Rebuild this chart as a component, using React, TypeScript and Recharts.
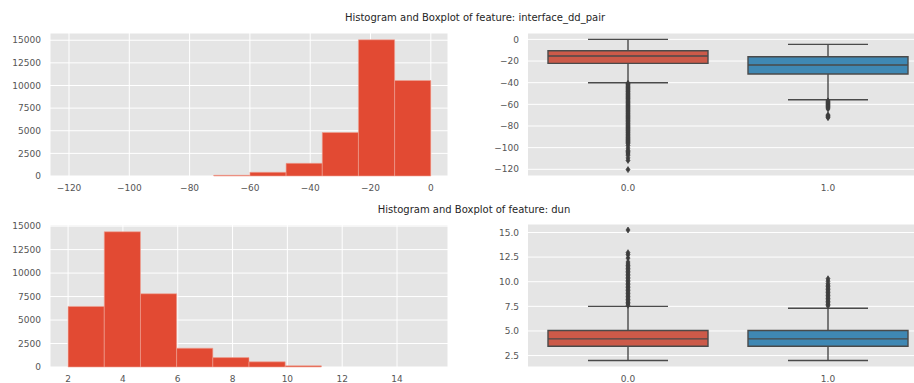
import React from 'react';
import {
  ComposedChart,
  XAxis,
  YAxis,
  CartesianGrid,
  ReferenceArea,
  ReferenceLine,
  Scatter,
} from 'recharts';

const FONT = '"DejaVu Sans", "Liberation Sans", sans-serif';

// ---------- Histogram data ----------
const ddBinEdges = [-120, -108, -96, -84, -72, -60, -48, -36, -24, -12, 0];
const ddCounts = [2, 3, 4, 6, 80, 410, 1400, 4800, 15050, 10550];
const dunBinEdges = [2, 3.32, 4.64, 5.96, 7.28, 8.6, 9.92, 11.24, 12.56, 13.88, 15.2];
const dunCounts = [6450, 14400, 7800, 2000, 1000, 550, 120, 6, 2, 1];

const ddHistTicks = [-120, -100, -80, -60, -40, -20, 0];
const dunHistTicks = [2, 4, 6, 8, 10, 12, 14];
const countTicks = [0, 2500, 5000, 7500, 10000, 12500, 15000];

// ---------- Boxplot data ----------
const categories = [0, 1];
const categoryLabels = ['0.0', '1.0'];
const boxColors = ['#CC5A49', '#3f88b4'];

const ddBoxTicks = [0, -20, -40, -60, -80, -100, -120];
const dunBoxTicks = [2.5, 5, 7.5, 10, 12.5, 15];

const ddBoxStats = [
  { low: -40, q1: -22.2, median: -15.4, q3: -10.5, high: 0 },
  { low: -55.7, q1: -32, median: -23.7, q3: -16, high: -4.6 },
];
const dunBoxStats = [
  { low: 2.0, q1: 3.45, median: 4.2, q3: 5.05, high: 7.5 },
  { low: 2.0, q1: 3.45, median: 4.2, q3: 5.05, high: 7.3 },
];

const ddOutliers0 = [
  -40.6, -41.3, -42.1, -43.0, -43.8, -44.5, -45.4, -46.2, -47.0, -47.9, -48.6, -49.5,
  -50.3, -51.1, -52.0, -52.8, -53.6, -54.5, -55.2, -56.1, -57.0, -57.8, -58.6, -59.5,
  -60.3, -61.2, -62.0, -62.8, -63.7, -64.5, -65.4, -66.2, -67.0, -67.9, -68.7, -69.6,
  -70.4, -71.2, -72.1, -73.0, -73.8, -74.7, -75.5, -76.3, -77.2, -78.0, -78.9, -79.7,
  -80.6, -81.4, -82.3, -83.1, -84.0, -84.8, -85.7, -86.5, -87.4, -88.2, -89.1, -90.0,
  -90.8, -91.7, -92.5, -93.4, -94.3, -95.2, -96.3, -98.0, -100.4, -102.5, -103.6,
  -104.8, -105.9, -107.0, -109.5, -111.8, -120.3,
];
const ddOutliers1 = [-56.8, -57.6, -58.4, -59.2, -60.1, -61.0, -62.0, -63.1, -64.2, -69.8, -70.6, -71.5, -72.3];

const dunOutliers0 = [
  7.6, 7.75, 7.9, 8.05, 8.2, 8.35, 8.5, 8.65, 8.8, 8.95, 9.1, 9.25, 9.4, 9.55, 9.7,
  9.85, 10.0, 10.15, 10.3, 10.45, 10.6, 10.75, 10.9, 11.05, 11.2, 11.35, 11.5, 11.65,
  11.8, 12.0, 12.4, 12.75, 12.95, 15.25,
];
const dunOutliers1 = [
  7.55, 7.7, 7.85, 8.0, 8.15, 8.3, 8.45, 8.6, 8.75, 8.9, 9.05, 9.2, 9.35, 9.5, 9.65, 9.8,
  10.05, 10.3,
];

const minusFmt = (v: number) => String(v).replace('-', '\u2212');
const oneDec = (v: number) => v.toFixed(1).replace('-', '\u2212');

const tickStyle = { fill: '#555555', fontSize: 9, fontFamily: FONT };

type HistProps = {
  edges: number[];
  counts: number[];
  xDomain: [number, number];
  yDomain: [number, number];
  xTicks: number[];
  width: number;
  height: number;
  top: number;
  xAxisHeight: number;
};

function Histogram({ edges, counts, xDomain, yDomain, xTicks, width, height, top, xAxisHeight }: HistProps) {
  const data = counts.map((c, i) => ({ x: (edges[i] + edges[i + 1]) / 2, y: c }));
  const visibleMin = (yDomain[1] - yDomain[0]) / 300;
  return (
    <ComposedChart width={width} height={height} data={data} margin={{ top, right: 12, bottom: 0, left: 0 }}>
      <CartesianGrid fill="#E5E5E5" fillOpacity={1} stroke="#ffffff" strokeWidth={1} />
      <XAxis
        dataKey="x"
        type="number"
        domain={xDomain}
        allowDataOverflow
        ticks={xTicks}
        tickFormatter={minusFmt}
        axisLine={false}
        tickLine={false}
        tickSize={7}
        tickMargin={2}
        height={xAxisHeight}
        tick={tickStyle}
        interval={0}
      />
      <YAxis
        dataKey="y"
        type="number"
        domain={yDomain}
        allowDataOverflow
        ticks={countTicks}
        axisLine={false}
        tickLine={false}
        tickSize={7}
        tickMargin={2}
        width={50}
        tick={tickStyle}
        interval={0}
      />
      {counts.map((c, i) => (
        <ReferenceArea
          key={i}
          x1={edges[i]}
          x2={edges[i + 1]}
          y1={0}
          y2={c}
          fill="#E24A33"
          fillOpacity={1}
          stroke={c > visibleMin ? '#f0a294' : 'none'}
          strokeWidth={0.6}
          ifOverflow="visible"
        />
      ))}
    </ComposedChart>
  );
}

type BoxStat = { low: number; q1: number; median: number; q3: number; high: number };

type BoxProps = {
  stats: BoxStat[];
  outliers: number[][];
  yDomain: [number, number];
  yTicks: number[];
  yFmt: (v: number) => string;
  width: number;
  height: number;
  top: number;
  xAxisHeight: number;
};

const LINE = '#4a4a4a';

function Diamond(props: any) {
  const { cx, cy } = props;
  if (cx == null || cy == null) return null;
  const hw = 2;
  const hh = 3;
  return (
    <path
      d={`M${cx},${cy - hh}L${cx + hw},${cy}L${cx},${cy + hh}L${cx - hw},${cy}Z`}
      fill="#3d3d3d"
      stroke="#3d3d3d"
      strokeWidth={0.7}
    />
  );
}

function BoxPlot({ stats, outliers, yDomain, yTicks, yFmt, width, height, top, xAxisHeight }: BoxProps) {
  const half = 0.4;
  const cap = 0.2;
  const points = outliers.map((arr, ci) => arr.map((v) => ({ x: categories[ci], y: v })));
  return (
    <ComposedChart width={width} height={height} margin={{ top, right: 0, bottom: 0, left: 0 }}>
      <CartesianGrid fill="#E5E5E5" fillOpacity={1} stroke="#ffffff" strokeWidth={1} vertical={false} />
      <XAxis
        dataKey="x"
        type="number"
        domain={[-0.5, 1.43]}
        allowDataOverflow
        ticks={categories}
        tickFormatter={(v: number) => categoryLabels[categories.indexOf(v)]}
        axisLine={false}
        tickLine={false}
        tickSize={7}
        tickMargin={2}
        height={xAxisHeight}
        tick={tickStyle}
        interval={0}
      />
      <YAxis
        dataKey="y"
        type="number"
        domain={yDomain}
        allowDataOverflow
        ticks={yTicks}
        tickFormatter={yFmt}
        axisLine={false}
        tickLine={false}
        tickSize={7}
        tickMargin={2}
        width={68}
        tick={tickStyle}
        interval={0}
      />
      {stats.map((s, i) => {
        const c = categories[i];
        return (
          <React.Fragment key={i}>
            <ReferenceLine
              segment={[{ x: c, y: s.q3 }, { x: c, y: s.high }]}
              stroke={LINE}
              strokeWidth={1.4}
              ifOverflow="visible"
            />
            <ReferenceLine
              segment={[{ x: c, y: s.low }, { x: c, y: s.q1 }]}
              stroke={LINE}
              strokeWidth={1.4}
              ifOverflow="visible"
            />
            <ReferenceLine
              segment={[{ x: c - cap, y: s.high }, { x: c + cap, y: s.high }]}
              stroke={LINE}
              strokeWidth={1.4}
              ifOverflow="visible"
            />
            <ReferenceLine
              segment={[{ x: c - cap, y: s.low }, { x: c + cap, y: s.low }]}
              stroke={LINE}
              strokeWidth={1.4}
              ifOverflow="visible"
            />
            <ReferenceArea
              x1={c - half}
              x2={c + half}
              y1={s.q1}
              y2={s.q3}
              fill={boxColors[i]}
              fillOpacity={1}
              stroke={LINE}
              strokeWidth={1.4}
              ifOverflow="visible"
            />
            <ReferenceLine
              segment={[{ x: c - half, y: s.median }, { x: c + half, y: s.median }]}
              stroke={LINE}
              strokeWidth={1.4}
              ifOverflow="visible"
            />
          </React.Fragment>
        );
      })}
      {points.map((pts, i) => (
        <Scatter key={i} data={pts} dataKey="y" shape={Diamond} isAnimationActive={false} />
      ))}
    </ComposedChart>
  );
}

const titleStyle: React.CSSProperties = {
  position: 'absolute',
  fontFamily: FONT,
  fontSize: 10,
  color: '#262626',
  whiteSpace: 'nowrap',
  transform: 'translate(-50%, -50%)',
  lineHeight: '12px',
};

export default function App() {
  return (
    <div style={{ position: 'absolute', left: 0, top: 0, width: 914, height: 383, background: '#ffffff', overflow: 'hidden' }}>
      <div style={{ ...titleStyle, left: 475, top: 18 }}>Histogram and Boxplot of feature: interface_dd_pair</div>
      <div style={{ ...titleStyle, left: 474, top: 210 }}>Histogram and Boxplot of feature: dun</div>

      <div style={{ position: 'absolute', left: 0, top: 0 }}>
        <Histogram
          edges={ddBinEdges}
          counts={ddCounts}
          xDomain={[-126.3, 5.7]}
          yDomain={[0, 15800]}
          xTicks={ddHistTicks}
          width={460}
          height={200}
          top={33}
          xAxisHeight={24}
        />
      </div>
      <div style={{ position: 'absolute', left: 460, top: 0 }}>
        <BoxPlot
          stats={ddBoxStats}
          outliers={[ddOutliers0, ddOutliers1]}
          yDomain={[-126.2, 5.9]}
          yTicks={ddBoxTicks}
          yFmt={minusFmt}
          width={454}
          height={200}
          top={33}
          xAxisHeight={24}
        />
      </div>
      <div style={{ position: 'absolute', left: 0, top: 200 }}>
        <Histogram
          edges={dunBinEdges}
          counts={dunCounts}
          xDomain={[1.34, 15.86]}
          yDomain={[0, 15120]}
          xTicks={dunHistTicks}
          width={460}
          height={183}
          top={25}
          xAxisHeight={16}
        />
      </div>
      <div style={{ position: 'absolute', left: 460, top: 200 }}>
        <BoxPlot
          stats={dunBoxStats}
          outliers={[dunOutliers0, dunOutliers1]}
          yDomain={[1.34, 15.86]}
          yTicks={dunBoxTicks}
          yFmt={oneDec}
          width={454}
          height={183}
          top={24}
          xAxisHeight={16}
        />
      </div>
    </div>
  );
}
